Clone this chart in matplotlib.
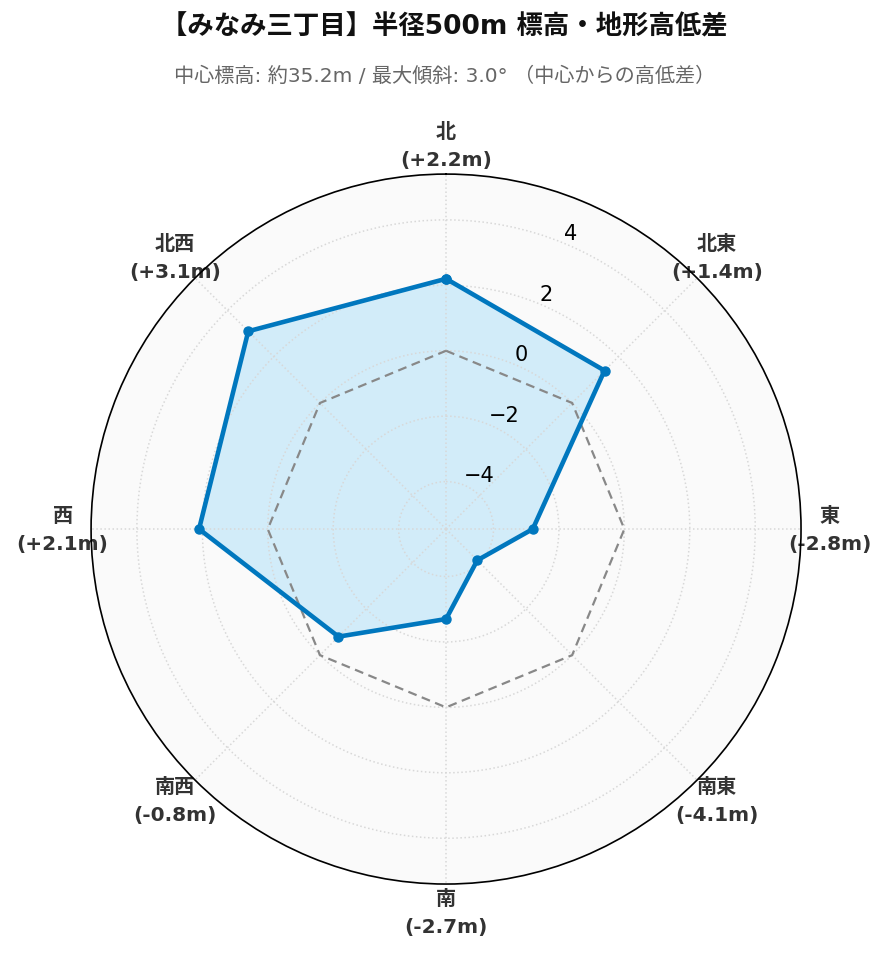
import matplotlib.pyplot as plt
import numpy as np

plt.rcParams['font.family'] = ['DejaVu Sans', 'Noto Sans CJK JP']

directions = ["北", "北東", "東", "南東", "南", "南西", "西", "北西"]
diffs = [2.2, 1.4, -2.8, -4.1, -2.7, -0.8, 2.1, 3.1]
rticks = [-4, -2, 0, 2, 4]
r_limits = (-5.45, 5.4)

angles = np.linspace(0, 2 * np.pi, len(directions), endpoint=False)
ang_closed = np.append(angles, angles[0])
vals_closed = np.append(diffs, diffs[0])
zero_closed = np.zeros_like(ang_closed)

fig = plt.figure(figsize=(8.89, 9.62), dpi=100)
ax = fig.add_axes([0.1024, 0.080, 0.7987, 0.738], projection="polar")
ax.set_facecolor("#fafafa")
ax.set_theta_zero_location("N")
ax.set_theta_direction(-1)
ax.set_ylim(*r_limits)

ax.fill(ang_closed, vals_closed, color="#d2ecf9", zorder=1)
ax.plot(ang_closed, zero_closed, color="#888888", lw=1.6, ls=(0, (4, 2.5)), zorder=3)
ax.plot(ang_closed, vals_closed, color="#0077be", lw=3.3, marker="o", ms=6.5, zorder=4)

labels = [f"{d}\n({v:+.1f}m)" if v >= 0 else f"{d}\n({v:.1f}m)" for d, v in zip(directions, diffs)]
ax.set_xticks(angles)
ax.set_xticklabels(labels, fontsize=14.5, fontweight="bold", color="#333333", linespacing=1.6)
ax.tick_params(axis="x", pad=10)

ax.set_yticks(rticks)
ax.set_yticklabels([f"{t}".replace("-", "\u2212") for t in rticks], fontsize=15)
ax.set_rlabel_position(22.5)
ax.grid(True, color="#d8d8d8", ls=":", lw=1.1)
ax.spines["polar"].set_color("black")
ax.spines["polar"].set_linewidth(1.2)

fig.text(0.5, 0.971, "【みなみ三丁目】半径500m 標高・地形高低差", ha="center", va="center",
         fontsize=19, fontweight="bold", color="#111111")
fig.text(0.5, 0.921, "中心標高: 約35.2m / 最大傾斜: 3.0° （中心からの高低差）", ha="center", va="center",
         fontsize=14.5, color="#666666")

plt.savefig("out.png", dpi=100)
